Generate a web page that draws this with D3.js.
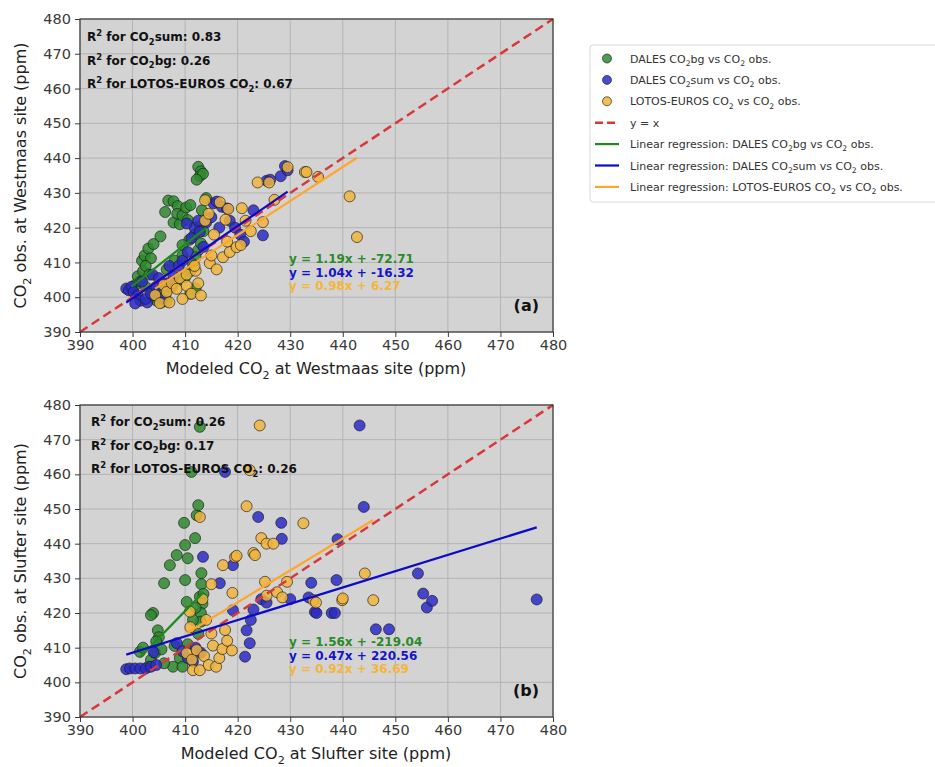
<!DOCTYPE html>
<html>
<head>
<meta charset="utf-8">
<script src="https://cdn.jsdelivr.net/npm/d3@7"></script>
<style>
body { margin: 0; background: #fff; }
svg text { font-family: "DejaVu Sans", sans-serif; }
</style>
</head>
<body>
<svg id="chart" width="935" height="767"></svg>
<script>
// axis ticks (ppm)
const ticks = [390, 400, 410, 420, 430, 440, 450, 460, 470, 480];

// Westmaas: [modeled, observed]
const wmBg = [[399.8,402.5],[400.5,403.5],[401,406],[401.5,404.5],[402,407.5],[401.8,410.5],[402.3,412],[403,414],[403.5,411.2],[404,415.3],[402.5,409],[403.2,406.5],[402.5,403],[404,401.8],[404.6,399],[405.5,398.5],[406.5,398.8],[403.8,400.5],[405,401.5],[405.3,417.5],[406.2,424.5],[406.8,427.8],[407.8,427.6],[408.6,426.2],[407.8,421.5],[408.5,424],[409,421],[409.5,423.5],[410.2,425.8],[411,426.5],[410.5,422.2],[412.5,437.5],[413,436.2],[412.8,434.8],[413.4,435.5],[412.2,433.8],[414,428.5],[413.2,425],[413.5,419],[412.8,420.5],[411.8,418],[410.8,416.5],[409.5,415],[412.5,413.5],[413,415.5],[412,411.5],[411.5,409.5],[411,407.5],[410,405.8],[408.8,405],[407.5,403],[406.2,400.5],[412,402.5],[411,401],[409.5,412],[408,410.5],[406.5,408]];
const wmSum = [[398.8,402.5],[399.3,402],[399.8,403],[400.2,401.5],[401,400.5],[401.5,399],[400.5,398.2],[402.8,398.5],[402.5,399.5],[403.5,401],[401.8,404.5],[403.8,406.5],[404.5,403],[405,405.5],[405.5,399.6],[406.5,404],[407,409],[407.8,406],[408.8,409],[409.5,410.5],[410.5,413],[411.2,417],[411.8,420],[410.3,421.2],[412.5,422],[412.8,418.8],[413.5,414.5],[414,421.5],[415,423],[415.4,427],[416,427.5],[416.5,420],[417,426],[418,425.5],[418.5,422],[419.5,420],[420.5,418],[421.2,416],[423,425],[424.8,417.8],[425.5,433.5],[426.2,433.8],[428.2,434.8],[429,437.7],[429.5,436.5]];
const wmLe = [[404.3,400.6],[405.2,398.3],[405.9,403.5],[406.5,401.5],[407.5,404],[408.4,402.4],[409,405.5],[410.3,406.5],[410.3,403.3],[411.2,401],[412,407.6],[412.5,404],[413,400.5],[414.7,409.8],[413.8,427.9],[413.8,422],[414.5,424],[415.5,418],[416.6,427.3],[417.2,411.5],[417.7,422.3],[418.2,425.4],[418.5,413],[419.8,414.4],[420.6,415],[420.8,425.6],[421.5,422],[422.5,419],[423.8,433],[424.8,421.6],[426,433],[427,428],[429.5,437.4],[432.8,436],[433.1,436],[435.3,434.6],[441.3,429],[442.7,417.3],[415,412],[416,408],[418,416],[409.5,399.5],[407,398.5],[411.8,409]];

// Slufter: [modeled, observed]
const slBg = [[401.4,408.8],[402,410],[403.5,406.5],[403.9,420],[403.5,419.4],[404.3,408.5],[404.8,415],[405,413],[404.5,411.8],[406,428.6],[407.1,433.8],[407.7,404.5],[408.4,436.7],[409.8,446],[410,439.6],[410,429.5],[410.5,435.8],[410.3,423.2],[411.2,460.7],[411.9,441.6],[412.2,448.2],[412.5,451.1],[412.8,473.7],[413.1,431.5],[413.1,428.3],[412.8,424.7],[413.5,425.5],[413.3,422.7],[413,420],[413,417.5],[412.5,414],[410.5,411],[409,407],[406,405.5],[405.5,409.5],[411.5,418],[412,421.5],[409.5,404.5],[408,410.5],[403,404.5]];
const slSum = [[398.8,403.8],[399.5,404],[400.5,404],[401.5,404],[402.5,404],[403.5,404.5],[404.5,405],[404,408.7],[408.4,411.3],[409.5,409],[410.5,407],[411.5,406],[412,410],[413,408.5],[413.4,436.2],[416.6,428.6],[417.6,460.7],[419.1,433.8],[419.1,420.8],[421.4,407.4],[421.7,415],[422.3,411.3],[422.5,418],[423,421],[423.9,447.7],[424.5,424],[425.5,423],[428.3,446],[428.4,441.4],[430,424],[433.5,424.5],[434,428.7],[434.7,420.3],[435,420],[437.9,420],[438.5,420],[438.8,429.5],[439,441.3],[443.2,474.1],[444,450.6],[446.3,415.3],[448.8,415.3],[454.3,431.4],[455.3,425.6],[456,421.6],[457,423.5],[476.9,423.9]];
const slLe = [[410.3,408.4],[410.9,420.4],[411,415.9],[411.3,406.5],[411.5,403.5],[412.2,409.3],[412.8,403.5],[412.8,447.7],[413.3,424],[413.6,407.6],[414.5,405],[415,414.1],[415,428.3],[415.3,410.6],[415.9,404.5],[416.5,407],[417.1,409.6],[417.2,433.8],[417.6,415.1],[418.9,409.2],[419,425.8],[419.5,436.1],[419.8,436.5],[421.7,450.8],[422.3,461.2],[423,437.3],[423.3,436.7],[424.2,474.1],[424.5,441.6],[425.2,429],[425.5,440],[425.5,425],[426.8,440],[427.5,426],[428.5,424.5],[429.4,429],[432.5,445.9],[434.4,423.7],[434.9,423],[439.9,423.7],[440,424.2],[444.2,431.4],[445.8,423.7],[418,412],[414,418]];

// fits: slope, intercept  (order: bg, sum, LOTOS-EUROS)
const wmSlopes = [1.19, 1.04, 0.98];
const wmIntercepts = [-72.71, -16.32, 6.27];
const slSlopes = [1.56, 0.47, 0.92];
const slIntercepts = [-219.04, 220.56, 36.69];
const wmR2 = ['0.83', '0.26', '0.67'];
const slR2 = ['0.26', '0.17', '0.26'];

const ptColors = ['#2e8b2e', '#2b2bc8', '#f0b43c'];
const lineColors = ['#1d8a1d', '#0b0bc8', '#ffa62b'];
const eqColors = ['#2a8a2a', '#1515c8', '#f4b53a'];

const svg = d3.select('#chart');

// "_2" -> subscript, "^2" -> superscript
function richText(sel, str, size) {
    let parts = str.split(/([_^]\d)/);
    let shift = 0;
    parts.forEach(function(p) {
        if (!p) return;
        let target = 0, txt = p, fs = size;
        if (p[0] === '_') { target = size * 0.3; txt = p.slice(1); fs = size * 0.7; }
        else if (p[0] === '^') { target = -size * 0.4; txt = p.slice(1); fs = size * 0.7; }
        sel.append('tspan').attr('dy', target - shift).attr('font-size', fs).text(txt);
        shift = target;
    });
}

function drawPanel(opt) {
    let x = d3.scaleLinear().domain([390, 480]).range([80, 553]);
    let y = d3.scaleLinear().domain([390, 480]).range([opt.bottom, opt.top]);
    let g = svg.append('g');
    let clipId = 'clip' + opt.tag;

    g.append('clipPath').attr('id', clipId)
        .append('rect').attr('x', 80).attr('y', opt.top).attr('width', 473).attr('height', opt.bottom - opt.top);

    g.append('rect')
        .attr('x', 80).attr('y', opt.top)
        .attr('width', 473).attr('height', opt.bottom - opt.top)
        .attr('fill', '#d3d3d3');

    // grid
    g.selectAll('.gx').data(ticks).enter().append('line')
        .attr('x1', d => x(d)).attr('x2', d => x(d))
        .attr('y1', opt.top).attr('y2', opt.bottom)
        .attr('stroke', '#b4b4b4').attr('stroke-width', 1);
    g.selectAll('.gy').data(ticks).enter().append('line')
        .attr('y1', d => y(d)).attr('y2', d => y(d))
        .attr('x1', 80).attr('x2', 553)
        .attr('stroke', '#b4b4b4').attr('stroke-width', 1);

    let plot = g.append('g').attr('clip-path', 'url(#' + clipId + ')');

    opt.series.forEach(function(s, i) {
        plot.selectAll('.p' + i).data(s).enter().append('circle')
            .attr('cx', d => x(d[0])).attr('cy', d => y(d[1]))
            .attr('r', 5.5)
            .attr('fill', ptColors[i]).attr('fill-opacity', 0.85)
            .attr('stroke', '#1a1a1a').attr('stroke-opacity', 0.65).attr('stroke-width', 1);
    });

    // y = x
    plot.append('line')
        .attr('x1', x(390)).attr('y1', y(390)).attr('x2', x(480)).attr('y2', y(480))
        .attr('stroke', '#d8383a').attr('stroke-width', 2.5).attr('stroke-dasharray', '9,5');

    // regression lines over each series' x range
    opt.series.forEach(function(s, i) {
        let ext = d3.extent(s, d => d[0]);
        let f = v => opt.slopes[i] * v + opt.intercepts[i];
        plot.append('line')
            .attr('x1', x(ext[0])).attr('y1', y(f(ext[0])))
            .attr('x2', x(ext[1])).attr('y2', y(f(ext[1])))
            .attr('stroke', lineColors[i]).attr('stroke-width', 2.2);
    });

    // frame
    g.append('rect')
        .attr('x', 80).attr('y', opt.top)
        .attr('width', 473).attr('height', opt.bottom - opt.top)
        .attr('fill', 'none').attr('stroke', '#3a3a3a').attr('stroke-width', 1.2);

    let xAxis = g.append('g').attr('transform', 'translate(0,' + opt.bottom + ')')
        .call(d3.axisBottom(x).tickValues(ticks).tickSize(5).tickPadding(3));
    let yAxis = g.append('g').attr('transform', 'translate(80,0)')
        .call(d3.axisLeft(y).tickValues(ticks).tickSize(5).tickPadding(4));
    [xAxis, yAxis].forEach(function(a) {
        a.select('.domain').remove();
        a.selectAll('line').attr('stroke', '#3a3a3a');
        a.selectAll('text').attr('font-size', 14.5).attr('fill', '#3a3a3a')
            .attr('font-family', '"DejaVu Sans", sans-serif');
    });

    // axis labels
    let xl = g.append('text').attr('x', 316).attr('y', opt.bottom + 42)
        .attr('text-anchor', 'middle').attr('font-size', 16).attr('fill', '#222');
    richText(xl, opt.xlabel, 16);
    let yl = g.append('text')
        .attr('transform', 'translate(26,' + ((opt.top + opt.bottom) / 2) + ') rotate(-90)')
        .attr('text-anchor', 'middle').attr('font-size', 16).attr('fill', '#222');
    richText(yl, opt.ylabel, 16);

    // R^2 notes
    let r2Names = ['CO_2sum', 'CO_2bg', 'LOTOS-EUROS CO_2'];
    let r2Order = [0, 1, 2];
    r2Order.forEach(function(k, j) {
        let t = g.append('text').attr('x', opt.r2x).attr('y', opt.top + opt.r2y + j * 23.5)
            .attr('font-size', 12).attr('font-weight', 'bold').attr('fill', '#111');
        richText(t, 'R^2 for ' + r2Names[k] + ': ' + opt.r2[k], 12);
    });

    // fit equations
    opt.slopes.forEach(function(m, i) {
        g.append('text').attr('x', 289).attr('y', opt.top + opt.eqy + i * 13.5)
            .attr('font-size', 12).attr('font-weight', 'bold').attr('fill', eqColors[i])
            .text('y = ' + m.toFixed(2) + 'x + ' + opt.intercepts[i].toFixed(2));
    });

    g.append('text').attr('x', 539).attr('y', opt.bottom - 21)
        .attr('text-anchor', 'end').attr('font-size', 16).attr('font-weight', 'bold').attr('fill', '#111')
        .text(opt.tag);
}

drawPanel({
    tag: '(a)', top: 19, bottom: 332,
    series: [wmBg, wmSum, wmLe], slopes: wmSlopes, intercepts: wmIntercepts, r2: wmR2,
    r2x: 87, r2y: 22, eqy: 244,
    xlabel: 'Modeled CO_2 at Westmaas site (ppm)', ylabel: 'CO_2 obs. at Westmaas site (ppm)'
});
drawPanel({
    tag: '(b)', top: 405, bottom: 717,
    series: [slBg, slSum, slLe], slopes: slSlopes, intercepts: slIntercepts, r2: slR2,
    r2x: 91, r2y: 21, eqy: 241,
    xlabel: 'Modeled CO_2 at Slufter site (ppm)', ylabel: 'CO_2 obs. at Slufter site (ppm)'
});

// legend
const legendLabels = ['DALES CO_2bg vs CO_2 obs.', 'DALES CO_2sum vs CO_2 obs.', 'LOTOS-EUROS CO_2 vs CO_2 obs.',
    'y = x', 'Linear regression: DALES CO_2bg vs CO_2 obs.', 'Linear regression: DALES CO_2sum vs CO_2 obs.',
    'Linear regression: LOTOS-EUROS CO_2 vs CO_2 obs.'];
let lg = svg.append('g');
lg.append('rect').attr('x', 590).attr('y', 45).attr('width', 360).attr('height', 157).attr('rx', 3)
    .attr('fill', '#fff').attr('stroke', '#d8d8d8');
legendLabels.forEach(function(lab, i) {
    let cy = 58.5 + i * 21.4;
    if (i < 3) {
        lg.append('circle').attr('cx', 607).attr('cy', cy).attr('r', 4.5)
            .attr('fill', ptColors[i]).attr('fill-opacity', 0.85)
            .attr('stroke', '#1a1a1a').attr('stroke-opacity', 0.65);
    } else if (i === 3) {
        lg.append('line').attr('x1', 595).attr('x2', 619).attr('y1', cy).attr('y2', cy)
            .attr('stroke', '#d8383a').attr('stroke-width', 2.5).attr('stroke-dasharray', '8,4');
    } else {
        lg.append('line').attr('x1', 595).attr('x2', 619).attr('y1', cy).attr('y2', cy)
            .attr('stroke', lineColors[i - 4]).attr('stroke-width', 2.2);
    }
    let t = lg.append('text').attr('x', 630).attr('y', cy + 4).attr('font-size', 11).attr('fill', '#333');
    richText(t, lab, 11);
});
</script>
</body>
</html>
